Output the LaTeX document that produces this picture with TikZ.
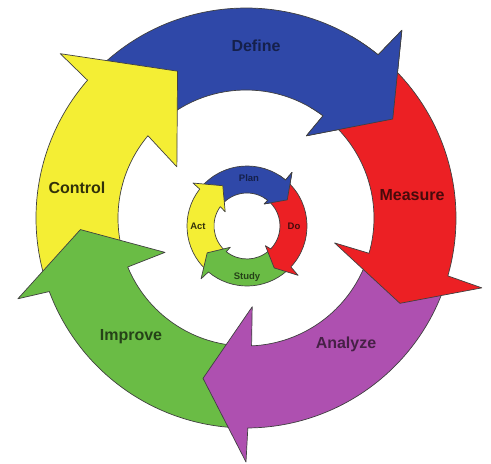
\documentclass[tikz,border=0pt]{standalone}
\usepackage{fontspec}
\setmainfont{Liberation Sans}
\definecolor{defineblue}{RGB}{47,72,168}
\definecolor{measurered}{RGB}{236,32,36}
\definecolor{analyzepurple}{RGB}{174,80,176}
\definecolor{improvegreen}{RGB}{106,188,69}
\definecolor{controlyellow}{RGB}{244,238,52}

\begin{document}
\begin{tikzpicture}[
    x=1pt, y=1pt,
    band/.style={draw=black!75, line width=0.7pt, line join=round},
    biglabel/.style={font=\fontsize{16}{18}\selectfont\bfseries},
    smalllabel/.style={font=\fontsize{9.5}{11}\selectfont\bfseries}
  ]
  \useasboundingbox (-246,-246) rectangle (245,218);
  % outer ring: Define, Control, Improve, Analyze, Measure
  \draw[band, fill=defineblue] (136:210) arc[start angle=136, end angle=51, radius=210] -- (50.3:244) -- (34:177) -- (53.7:102) -- (53:128) arc[start angle=53, end angle=136, radius=128] -- cycle;
  \draw[band, fill=controlyellow] (197:210) arc[start angle=197, end angle=139, radius=210] -- (138.5:248) -- (115:162) -- (143.5:86) -- (140:128) arc[start angle=140, end angle=197, radius=128] -- cycle;
  \draw[band, fill=improvegreen] (268:210) arc[start angle=268, end angle=200.5, radius=210] -- (199.5:242) -- (184:166) -- (203:88) -- (202.5:128) arc[start angle=202.5, end angle=268, radius=128] -- cycle;
  \draw[band, fill=analyzepurple] (-20:210) arc[start angle=-20, end angle=-89.5, radius=210] -- (-90:244) -- (-105:166) -- (-86:89) -- (-87.5:128) arc[start angle=-87.5, end angle=-20, radius=128] -- cycle;
  \draw[band, fill=measurered] (48:210) arc[start angle=48, end angle=-16, radius=210] -- (-16.5:246) -- (-29:176) -- (-15.7:92) -- (-16:128) arc[start angle=-16, end angle=48, radius=128] -- cycle;
  % Define head on top of Measure tail
  \begin{scope}
    \clip (0,0) -- (60:270) arc[start angle=60, end angle=20, radius=270] -- cycle;
    \draw[band, fill=defineblue] (136:210) arc[start angle=136, end angle=51, radius=210] -- (50.3:244) -- (34:177) -- (53.7:102) -- (53:128) arc[start angle=53, end angle=136, radius=128] -- cycle;
  \end{scope}

  % inner ring: Plan, Act, Study, Do
  \begin{scope}[shift={(1,-8)}]
    \draw[band, fill=defineblue] (140:60) arc[start angle=140, end angle=50, radius=60] -- (50:70) -- (33:48) -- (52:28) -- (51:33) arc[start angle=51, end angle=140, radius=33] -- cycle;
    \draw[band, fill=controlyellow] (227:60) arc[start angle=227, end angle=142, radius=60] -- (141.5:69) -- (121:47) -- (147:26) -- (144:33) arc[start angle=144, end angle=227, radius=33] -- cycle;
    \draw[band, fill=improvegreen] (312:60) arc[start angle=312, end angle=230, radius=60] -- (229:70) -- (214:48) -- (232:27) -- (231:33) arc[start angle=231, end angle=312, radius=33] -- cycle;
    \draw[band, fill=measurered] (47:60) arc[start angle=47, end angle=-43, radius=60] -- (-44:71) -- (-57:50) -- (-47:27) -- (-44:33) arc[start angle=-44, end angle=47, radius=33] -- cycle;
    \begin{scope}
      \clip (0,0) -- (58:85) arc[start angle=58, end angle=22, radius=85] -- cycle;
      \draw[band, fill=defineblue] (140:60) arc[start angle=140, end angle=50, radius=60] -- (50:70) -- (33:48) -- (52:28) -- (51:33) arc[start angle=51, end angle=140, radius=33] -- cycle;
    \end{scope}
  \end{scope}

  % labels
  \node[biglabel, text=defineblue!45!black] (define) at (10,172) {Define};
  \node[biglabel, text=measurered!30!black] (measure) at (166,23) {Measure};
  \node[biglabel, text=analyzepurple!40!black] (analyze) at (100,-126) {Analyze};
  \node[biglabel, text=improvegreen!35!black] (improve) at (-115,-119) {Improve};
  \node[biglabel, text=controlyellow!20!black] (control) at (-169,30) {Control};
  \node[smalllabel, text=defineblue!45!black] (plan) at (3,40) {Plan};
  \node[smalllabel, text=measurered!30!black] (do) at (48,-8) {Do};
  \node[smalllabel, text=improvegreen!35!black] (study) at (1,-59) {Study};
  \node[smalllabel, text=controlyellow!20!black] (act) at (-48,-8) {Act};
\end{tikzpicture}
\end{document}
